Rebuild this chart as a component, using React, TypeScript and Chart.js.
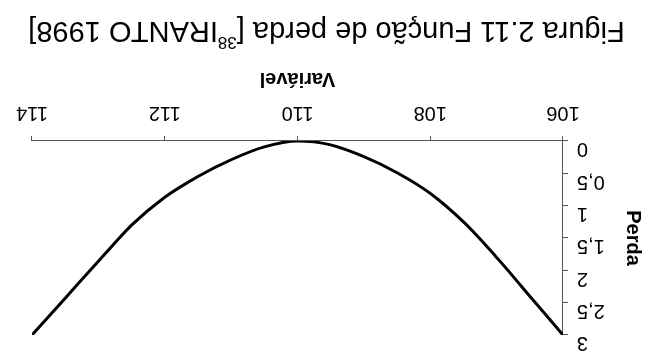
import React, { useEffect, useRef } from 'react';
import { Chart, registerables } from 'chart.js';

Chart.register(...registerables);

// ---- data read from the (upside-down) reference ----
const variavel = [106, 106.5, 107, 107.5, 108, 108.5, 109, 109.5, 110, 110.5, 111, 111.5, 112, 112.5, 113, 113.5, 114];
const perda = [3, 2.4, 1.8, 1.25, 0.81, 0.49, 0.24, 0.06, 0, 0.09, 0.29, 0.55, 0.87, 1.3, 1.86, 2.43, 3];

const xTickValues = [106, 108, 110, 112, 114];
const yTickValues = [0, 0.5, 1, 1.5, 2, 2.5, 3];
const yTickLabels = ['0', '0,5', '1', '1,5', '2', '2,5', '3'];

const xAxisTitle = 'Variável';
const yAxisTitle = 'Perda';
const figTitleMain = 'Figura 2.11 Função de perda [';
const figTitleSup = '38';
const figTitleTail = 'IRANTO 1998]';

const FONT = '"Liberation Sans", Arial, Helvetica, sans-serif';
const AXIS_COLOR = '#555555';

const figTitlePlugin = {
  id: 'figTitle',
  afterDraw(chart: any) {
    const ctx = chart.ctx as CanvasRenderingContext2D;
    ctx.save();
    const big = `29px ${FONT}`;
    const small = `17px ${FONT}`;
    ctx.font = big;
    const w1 = ctx.measureText(figTitleMain).width;
    const w3 = ctx.measureText(figTitleTail).width;
    ctx.font = small;
    const w2 = ctx.measureText(figTitleSup).width;
    const total = w1 + w2 + w3;
    let x = chart.width / 2 - total / 2;
    const baseline = chart.height - 22;
    ctx.fillStyle = '#000';
    ctx.textAlign = 'left';
    ctx.textBaseline = 'alphabetic';
    ctx.font = big;
    ctx.fillText(figTitleMain, x, baseline);
    x += w1;
    ctx.font = small;
    ctx.fillText(figTitleSup, x, baseline - 15);
    x += w2;
    ctx.font = big;
    ctx.fillText(figTitleTail, x, baseline);
    ctx.restore();
  },
};

export default function App() {
  const ref = useRef<HTMLCanvasElement | null>(null);

  useEffect(() => {
    if (!ref.current) return;
    const chart = new Chart(ref.current, {
      type: 'line',
      data: {
        datasets: [
          {
            data: variavel.map((x, i) => ({ x, y: perda[i] })),
            borderColor: '#000000',
            borderWidth: 3,
            pointRadius: 0,
            fill: false,
            cubicInterpolationMode: 'monotone',
          },
        ],
      },
      options: {
        animation: false,
        responsive: false,
        devicePixelRatio: 1,
        layout: { padding: { top: 25, right: 32, bottom: 61, left: 0 } },
        plugins: {
          legend: { display: false },
          tooltip: { enabled: false },
          title: { display: false },
        },
        scales: {
          x: {
            type: 'linear',
            position: 'bottom',
            min: xTickValues[0],
            max: xTickValues[xTickValues.length - 1],
            afterBuildTicks: (s: any) => {
              s.ticks = xTickValues.map((v) => ({ value: v }));
            },
            afterFit: (s: any) => {
              s.height = 80;
            },
            grid: { drawOnChartArea: false, drawTicks: true, tickLength: 5, color: AXIS_COLOR },
            border: { display: true, color: AXIS_COLOR, width: 1 },
            ticks: {
              color: '#000',
              padding: 11,
              maxRotation: 0,
              autoSkip: false,
              font: { family: FONT, size: 20 },
              callback: (v: any) => String(v),
            },
            title: {
              display: true,
              text: xAxisTitle,
              color: '#000',
              font: { family: FONT, size: 20, weight: 'bold' },
              padding: { top: 0, bottom: 6 },
            },
          },
          y: {
            type: 'linear',
            position: 'left',
            min: yTickValues[0],
            max: yTickValues[yTickValues.length - 1],
            afterBuildTicks: (s: any) => {
              s.ticks = yTickValues.map((v) => ({ value: v }));
            },
            afterFit: (s: any) => {
              s.width = 90;
            },
            grid: { drawOnChartArea: false, drawTicks: true, tickLength: 5, color: AXIS_COLOR },
            border: { display: true, color: AXIS_COLOR, width: 1 },
            ticks: {
              color: '#000',
              padding: 9,
              labelOffset: -8,
              autoSkip: false,
              font: { family: FONT, size: 20 },
              callback: (v: any) => {
                const i = yTickValues.indexOf(Number(v));
                return i >= 0 ? yTickLabels[i] : '';
              },
            },
            title: {
              display: true,
              text: yAxisTitle,
              color: '#000',
              font: { family: FONT, size: 20, weight: 'bold' },
              padding: { top: 8, bottom: 0 },
            },
          },
        },
      },
      plugins: [figTitlePlugin],
    } as any);
    return () => chart.destroy();
  }, []);

  return (
    <div
      style={{
        position: 'fixed',
        left: 0,
        top: 0,
        width: 653,
        height: 360,
        background: '#ffffff',
        transform: 'rotate(180deg)',
        transformOrigin: '50% 50%',
      }}
    >
      <canvas ref={ref} width={653} height={360} style={{ display: 'block', width: 653, height: 360 }} />
    </div>
  );
}
